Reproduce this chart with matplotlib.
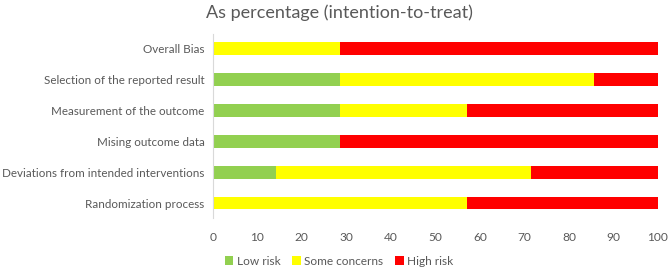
import matplotlib.pyplot as plt
import numpy as np

plt.rcParams['font.family'] = ['Lato', 'DejaVu Sans']

categories = ['Overall Bias', 'Selection of the reported result', 'Measurement of the outcome',
              'Mising outcome data', 'Deviations from intended interventions', 'Randomization process']
low_risk = [0, 28.57, 28.57, 28.57, 14.29, 0]
some_concerns = [28.57, 57.14, 28.57, 0, 57.14, 57.14]
high_risk = [71.43, 14.29, 42.86, 71.43, 28.57, 42.86]
series_names = ['Low risk', 'Some concerns', 'High risk']
colors = ['#92D050', '#FFFF00', '#FF0000']
txt = '#595959'

fig = plt.figure(figsize=(6.69, 2.68), dpi=100)
ax = fig.add_axes([0.318, 0.185, 0.6656, 0.69])

y = np.arange(len(categories))[::-1]
left = np.zeros(len(categories))
handles = []
for vals, name, c in zip([low_risk, some_concerns, high_risk], series_names, colors):
    b = ax.barh(y, vals, left=left, height=0.42, color=c, label=name)
    handles.append(b)
    left += np.array(vals)

ax.set_xlim(0, 100)
ax.set_ylim(-0.5, len(categories) - 0.5)
ax.set_yticks(y)
ax.set_yticklabels(categories, color=txt, fontsize=8.4)
ax.set_xticks(range(0, 101, 10))
ax.tick_params(axis='x', colors=txt, labelsize=8.6, length=0, pad=10)
ax.tick_params(axis='y', length=0, pad=6)
for s in ['top', 'right', 'bottom']:
    ax.spines[s].set_visible(False)
ax.spines['left'].set_color('#D9D9D9')

fig.suptitle('As percentage (intention-to-treat)', x=0.507, y=0.985, fontsize=13, color=txt)
fig.legend(handles=handles, loc='lower center', bbox_to_anchor=(0.507, -0.035), ncol=3,
           frameon=False, fontsize=8.6, labelcolor=txt, handlelength=0.7, handleheight=0.7,
           handletextpad=0.3, columnspacing=1.0)

fig.savefig('out.png', dpi=100)
